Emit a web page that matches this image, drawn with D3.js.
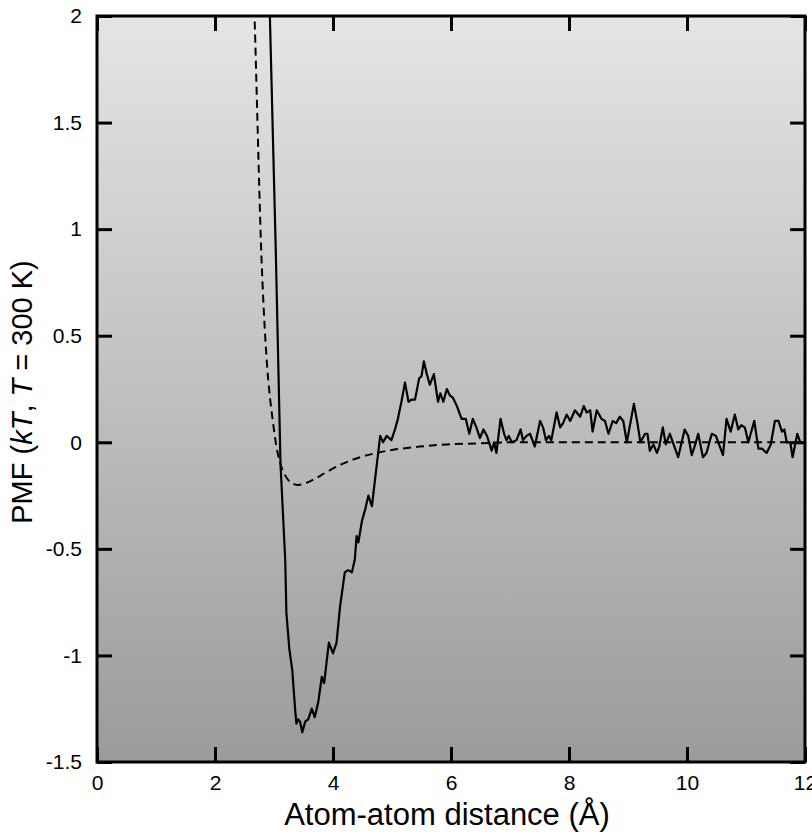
<!DOCTYPE html>
<html>
<head>
<meta charset="utf-8">
<script src="https://cdn.jsdelivr.net/npm/d3@7.9.0/dist/d3.min.js"></script>
<style>
  body { margin: 0; background: #fff; }
  svg { display: block; font-family: "Liberation Sans", Arial, sans-serif; }
</style>
</head>
<body>
<svg id="chart" width="812" height="832"></svg>
<script>
// PMF from simulation (solid line)
const pmfX = [2.93, 3.03, 3.11, 3.19, 3.21, 3.26, 3.31, 3.36, 3.38, 3.41, 3.44, 3.48, 3.53, 3.58, 3.64, 3.69, 3.75, 3.81, 3.85,
  3.93, 4.0, 4.06, 4.12, 4.20, 4.26, 4.32, 4.37, 4.40, 4.43, 4.49, 4.55, 4.60, 4.66, 4.71, 4.80, 4.85, 4.91, 4.99,
  5.05, 5.10, 5.16, 5.22, 5.28, 5.33, 5.39, 5.46, 5.50, 5.54, 5.59, 5.64, 5.71, 5.78, 5.82, 5.87, 5.93, 5.98, 6.03,
  6.10, 6.18, 6.25, 6.31, 6.37, 6.43, 6.49, 6.55, 6.61, 6.69, 6.73, 6.77, 6.84, 6.90, 6.94, 6.98, 7.03, 7.11, 7.18,
  7.22, 7.28, 7.34, 7.42, 7.51, 7.56, 7.61, 7.66, 7.70, 7.79, 7.85, 7.90, 7.96, 8.02, 8.10, 8.19, 8.25, 8.30, 8.36,
  8.40, 8.47, 8.55, 8.61, 8.67, 8.74, 8.80, 8.86, 8.92, 8.98, 9.10, 9.16, 9.21, 9.29, 9.33, 9.37, 9.43, 9.49, 9.53,
  9.59, 9.64, 9.71, 9.76, 9.85, 9.96, 10.02, 10.08, 10.14, 10.19, 10.27, 10.33, 10.42, 10.49, 10.61, 10.67, 10.74,
  10.81, 10.87, 10.92, 10.98, 11.04, 11.14, 11.21, 11.27, 11.35, 11.42, 11.49, 11.55, 11.61, 11.65, 11.69, 11.75,
  11.79, 11.84, 11.87, 11.92, 11.97, 12.0];
const pmfY = [2.0, 0.90, -0.10, -0.55, -0.80, -0.97, -1.07, -1.26, -1.32, -1.30, -1.31, -1.36, -1.31, -1.30, -1.25, -1.29, -1.22, -1.10, -1.13,
  -0.94, -0.99, -0.94, -0.77, -0.61, -0.60, -0.61, -0.55, -0.44, -0.47, -0.37, -0.31, -0.25, -0.30, -0.18, 0.03, 0.0, 0.03, 0.01,
  0.06, 0.11, 0.19, 0.28, 0.19, 0.20, 0.20, 0.30, 0.31, 0.38, 0.32, 0.27, 0.32, 0.19, 0.23, 0.19, 0.25, 0.22, 0.21,
  0.17, 0.11, 0.11, 0.04, 0.11, 0.07, 0.02, 0.06, 0.03, -0.04, 0.0, -0.05, 0.11, 0.04, 0.01, 0.03, 0.0, 0.01, 0.06,
  0.01, 0.03, 0.04, -0.02, 0.10, 0.07, 0.01, 0.03, 0.01, 0.14, 0.07, 0.09, 0.13, 0.10, 0.15, 0.12, 0.17, 0.14, 0.15,
  0.05, 0.15, 0.11, 0.10, 0.04, 0.10, 0.09, 0.12, 0.10, 0.0, 0.18, 0.09, 0.0, 0.04, 0.04, -0.04, -0.01, -0.05, -0.02,
  0.07, -0.01, 0.04, 0.0, -0.07, 0.06, 0.03, -0.06, -0.01, 0.04, -0.07, -0.05, 0.04, 0.03, -0.06, 0.11, 0.05,
  0.13, 0.06, 0.08, 0.07, 0.0, 0.10, -0.03, -0.03, -0.05, -0.01, 0.10, 0.10, 0.05, 0.06, 0.0, 0.0,
  -0.07, 0.0, 0.04, 0.0, 0.0, 0.0];

// reference potential (dashed line)
const refX = [2.62, 2.67, 2.72, 2.76, 2.79, 2.84, 2.90, 2.98, 3.07, 3.16, 3.27, 3.40, 3.55, 3.70, 3.89, 4.17, 4.46, 4.74, 5.02, 5.47, 5.93, 6.49, 7.0, 8.0, 10.0, 12.0];
const refY = [2.4, 2.0, 1.5, 1.1, 0.85, 0.55, 0.30, 0.10, -0.06, -0.14, -0.185, -0.20, -0.19, -0.17, -0.14, -0.10, -0.07, -0.05, -0.035, -0.02, -0.01, -0.005, 0.0, 0.0, 0.0, 0.0];

const xTicks = [0, 2, 4, 6, 8, 10, 12];
const yTicks = [-1.5, -1, -0.5, 0, 0.5, 1, 1.5, 2];

const svg = d3.select('#chart');
const margin = { top: 16, right: 7, bottom: 70, left: 97 };
const W = 812, H = 832;
const innerW = W - margin.left - margin.right;
const innerH = H - margin.top - margin.bottom;

const x = d3.scaleLinear().domain([0, 12]).range([margin.left, margin.left + innerW]);
const y = d3.scaleLinear().domain([-1.5, 2]).range([margin.top + innerH, margin.top]);

const defs = svg.append('defs');
const grad = defs.append('linearGradient').attr('id', 'bg').attr('x1', 0).attr('x2', 0).attr('y1', 0).attr('y2', 1);
grad.append('stop').attr('offset', '0%').attr('stop-color', '#e5e5e5');
grad.append('stop').attr('offset', '100%').attr('stop-color', '#9b9b9b');
defs.append('clipPath').attr('id', 'clip').append('rect')
  .attr('x', x(0)).attr('y', y(2)).attr('width', innerW).attr('height', innerH);

svg.append('rect')
  .attr('x', x(0)).attr('y', y(2)).attr('width', innerW).attr('height', innerH)
  .attr('fill', 'url(#bg)');

const lines = svg.append('g').attr('clip-path', 'url(#clip)');
const line = d3.line().x(d => x(d[0])).y(d => y(d[1]));

lines.append('path')
  .datum(d3.zip(refX, refY))
  .attr('d', line.curve(d3.curveCatmullRom.alpha(0.5)))
  .attr('fill', 'none').attr('stroke', '#000').attr('stroke-width', 2)
  .attr('stroke-dasharray', '8,5');

lines.append('path')
  .datum(d3.zip(pmfX, pmfY))
  .attr('d', line.curve(d3.curveLinear))
  .attr('fill', 'none').attr('stroke', '#000').attr('stroke-width', 2.2)
  .attr('stroke-linejoin', 'round');

// axes with inward ticks
const fmt = d => String(d);
svg.append('g')
  .attr('transform', `translate(0,${y(-1.5)})`)
  .call(d3.axisBottom(x).tickValues(xTicks).tickSize(-15).tickPadding(13).tickFormat(fmt))
  .call(g => g.select('.domain').remove());
svg.append('g')
  .attr('transform', `translate(0,${y(2)})`)
  .call(d3.axisTop(x).tickValues(xTicks).tickSize(-15).tickFormat(''))
  .call(g => g.select('.domain').remove());
svg.append('g')
  .attr('transform', `translate(${x(0)},0)`)
  .call(d3.axisLeft(y).tickValues(yTicks).tickSize(-15).tickPadding(15).tickFormat(fmt))
  .call(g => g.select('.domain').remove());
svg.append('g')
  .attr('transform', `translate(${x(12)},0)`)
  .call(d3.axisRight(y).tickValues(yTicks).tickSize(-15).tickFormat(''))
  .call(g => g.select('.domain').remove());

svg.selectAll('.tick line').attr('stroke', '#000').attr('stroke-width', 3);
svg.selectAll('.tick text').attr('font-size', 21).attr('fill', '#000')
  .attr('font-family', '"Liberation Sans", Arial, sans-serif');

// frame
svg.append('rect')
  .attr('x', x(0)).attr('y', y(2)).attr('width', innerW).attr('height', innerH)
  .attr('fill', 'none').attr('stroke', '#000').attr('stroke-width', 3);

svg.append('text')
  .attr('x', 447).attr('y', 825)
  .attr('text-anchor', 'middle').attr('font-size', 31)
  .text('Atom-atom distance (Å)');

const yl = svg.append('text')
  .attr('transform', `translate(32,392) rotate(-90)`)
  .attr('text-anchor', 'middle').attr('font-size', 29);
yl.append('tspan').text('PMF (');
yl.append('tspan').attr('font-style', 'italic').text('kT');
yl.append('tspan').text(', ');
yl.append('tspan').attr('font-style', 'italic').text('T');
yl.append('tspan').text(' = 300 K)');
</script>
</body>
</html>
